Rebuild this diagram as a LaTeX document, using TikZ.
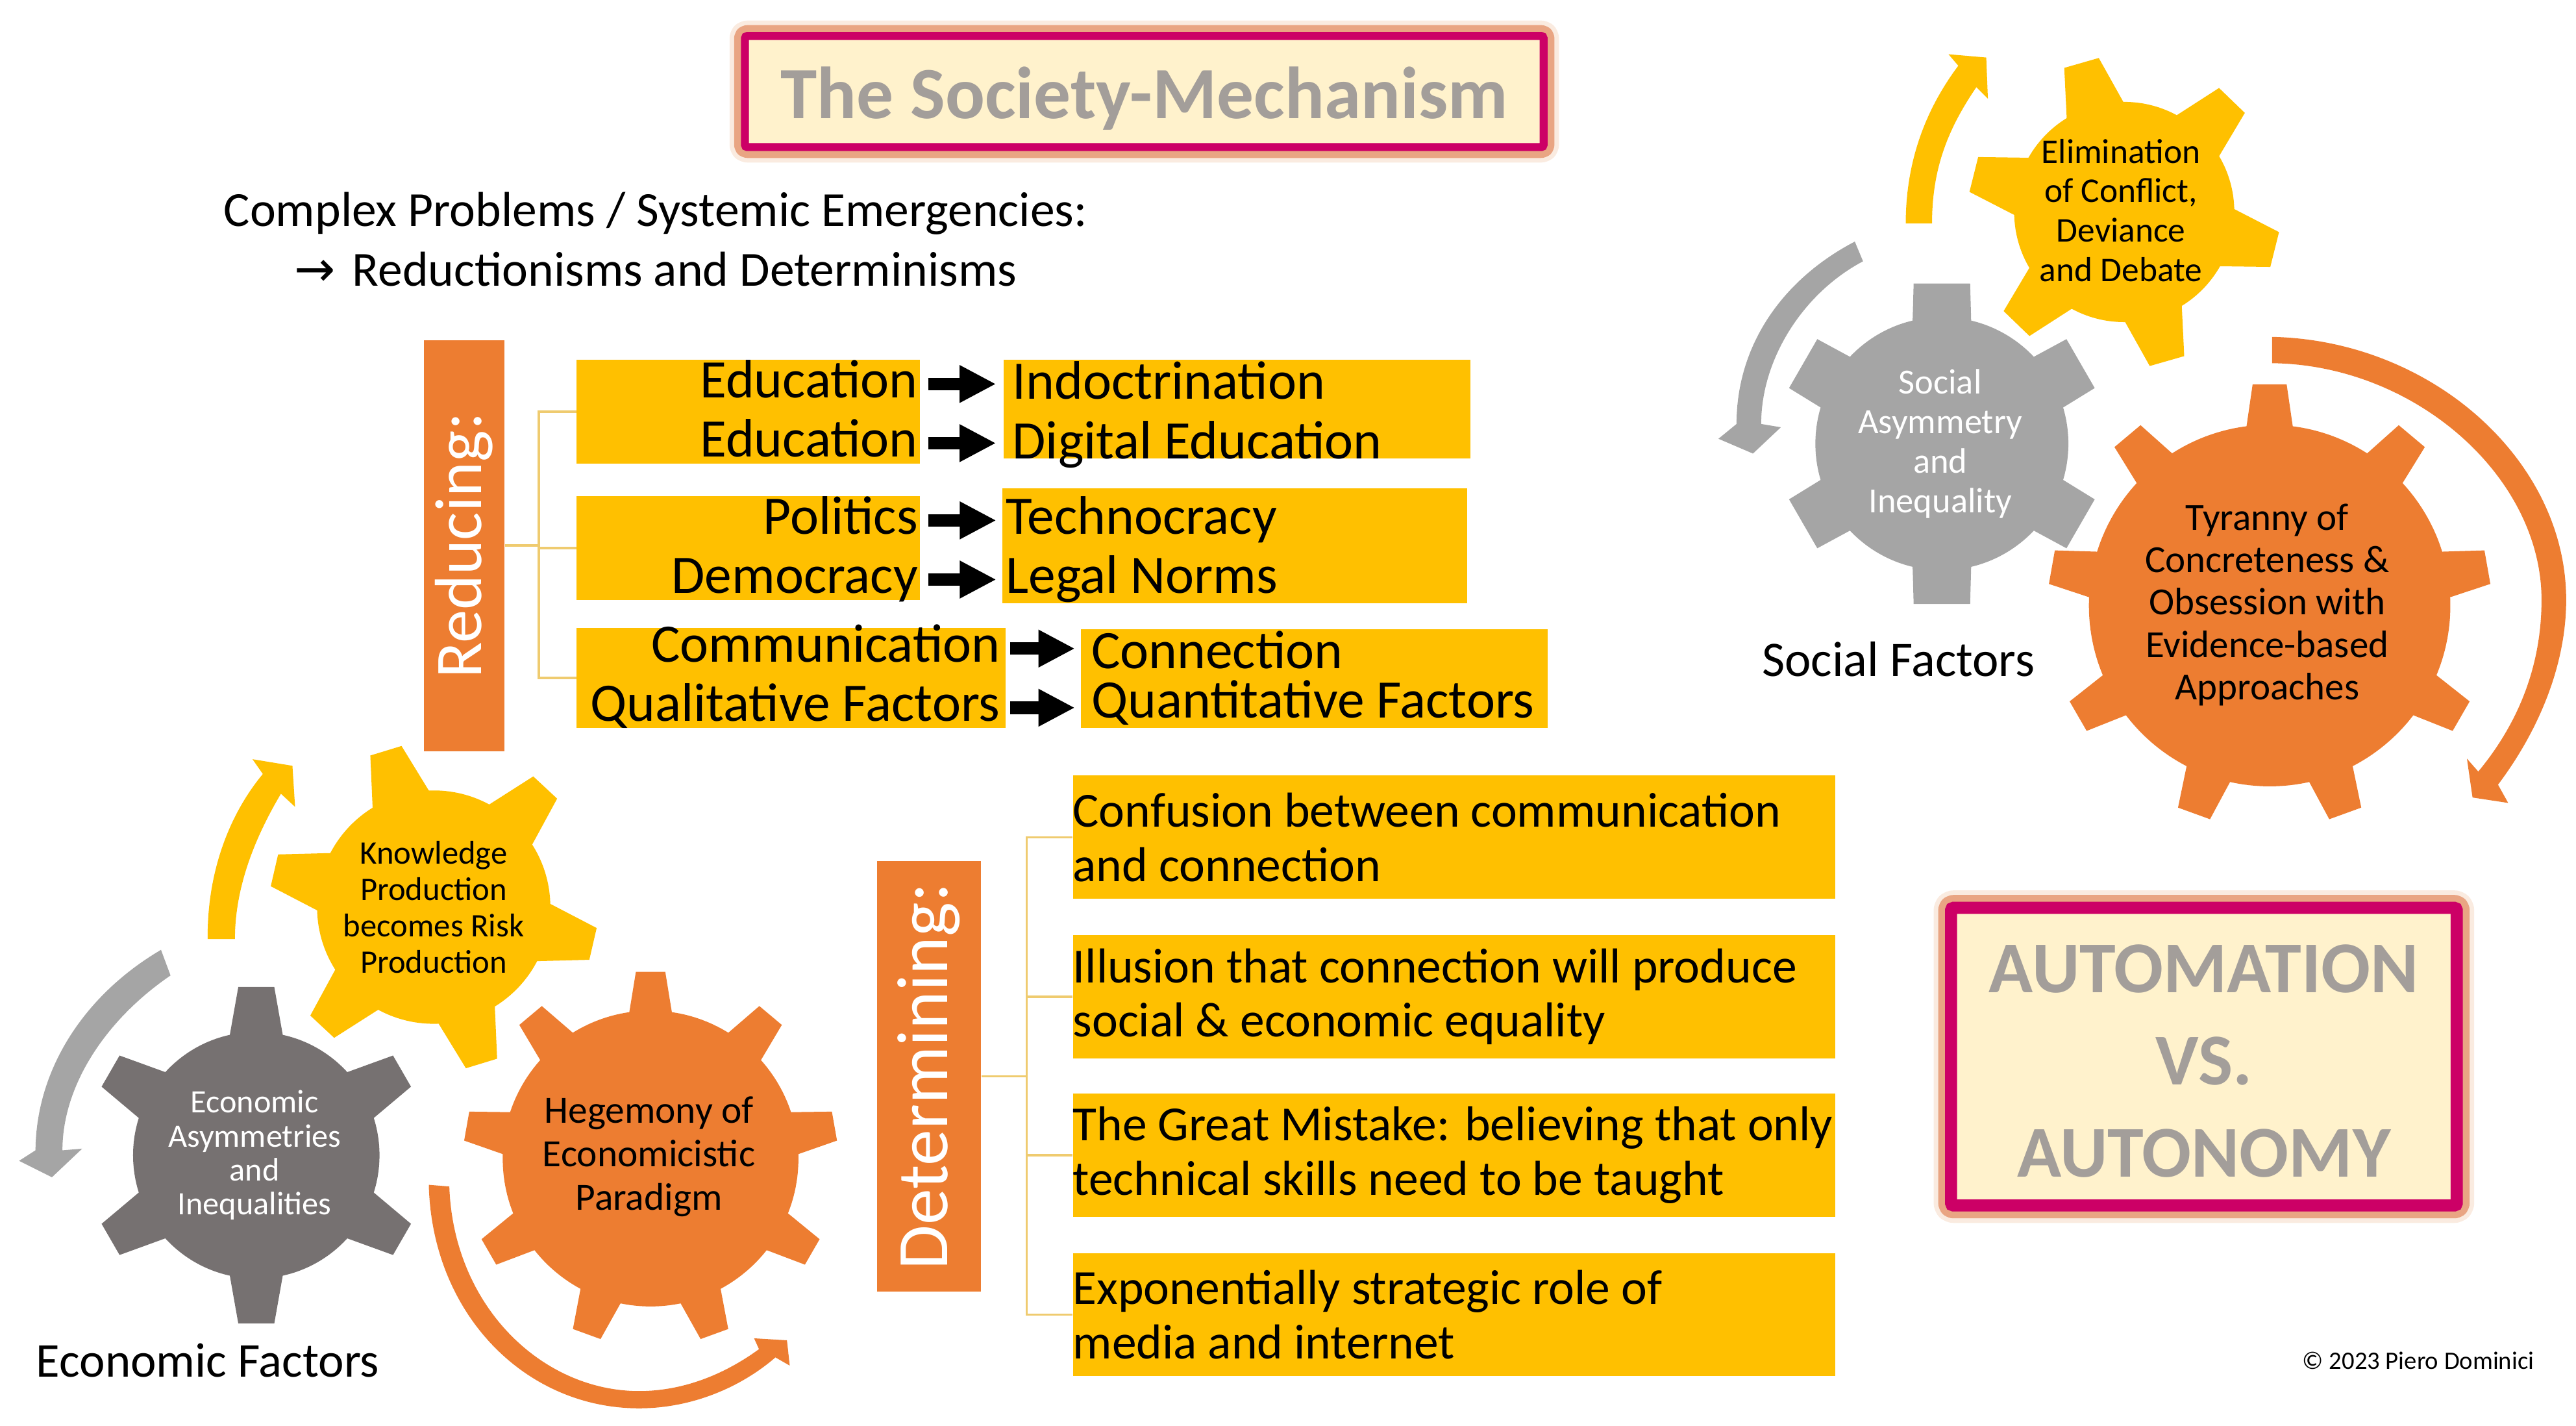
\documentclass[tikz,border=0pt]{standalone}
\usepackage{fontspec}
\setmainfont{Carlito}
\newfontfamily\arrowfont{DejaVu Sans}
\usetikzlibrary{arrows.meta}

\definecolor{cogyellow}{HTML}{FFC000}
\definecolor{cogorange}{HTML}{ED7D31}
\definecolor{coggrey}{HTML}{A5A5A5}
\definecolor{cogdark}{HTML}{767171}
\definecolor{framered}{HTML}{CC0066}
\definecolor{framefill}{HTML}{FFF2CC}
\definecolor{framefont}{HTML}{A39E9A}
\definecolor{glowmid}{HTML}{E9A583}
\definecolor{glowpale}{HTML}{FAEBE0}
\definecolor{treeline}{HTML}{EFCB6F}

\tikzset{
    framebox/.style={fill=framefill, draw=framered, align=center, inner sep=0pt, rounded corners=1pt, text=framefont,
        preaction={draw=glowpale, line width=#1+10pt, line join=round},
        preaction={draw=glowmid, line width=#1+6pt, line join=round},
        line width=#1},
    barbox/.style={fill=cogorange, text=white, inner sep=0pt, rotate=90},
    goldbox/.style={fill=cogyellow, inner sep=0pt},
    rowtext/.style={inner sep=0pt, text height=17pt, text depth=5pt, font=\fontsize{23.75}{26}\selectfont},
    detailbox/.style={goldbox, minimum width=334pt, minimum height=54pt, text width=334pt, align=flush left, font=\fontsize{21.5}{23.8}\selectfont},
    branch/.style={draw=treeline, line width=1pt},
    blockarrow/.style={line width=5.5pt, -{Triangle[length=16pt,width=15.4pt]}, shorten <=4.3pt, shorten >=7pt},
    cogtext/.style={align=center, inner sep=0pt}
}

\newcommand{\cogwheel}[9]{
    \begin{scope}[shift={(#1,#2)}]
        \fill[#9] (0,0) circle[radius=#3];
        \foreach \i in {1,...,#5}{
            \pgfmathsetmacro{\ang}{#6+(\i-1)*360/#5}
            \fill[#9] (\ang-#7:#3-3) -- (\ang-#8:#4) -- (\ang+#8:#4) -- (\ang+#7:#3-3) -- cycle;
        }
    \end{scope}
}

\begin{document}
\begin{tikzpicture}[x=0.72pt,y=-0.72pt]
    \useasboundingbox (0,0) rectangle (1568,867.4);

    \node[framebox=3.5pt, minimum width=350pt, minimum height=48.7pt, text height=30pt, text depth=6.2pt, font=\fontsize{32.3}{36}\selectfont\bfseries] (title) at (696.5,55.7) {The Society-Mechanism};
    \node[framebox=5.3pt, minimum width=221.6pt, minimum height=130.4pt, text height=105.4pt, font=\fontsize{32}{40.3}\selectfont\bfseries] (versus) at (1341.5,643) {AUTOMATION\\VS.\\AUTONOMY};

    \node[anchor=base west, inner sep=0pt, font=\fontsize{21.5}{24}\selectfont] (problems) at (136,137.7) {Complex Problems / Systemic Emergencies:};
    \node[anchor=base west, inner sep=0pt, font=\fontsize{21.5}{24}\selectfont] (reductions) at (179,174) {{\arrowfont →}\hspace{2.5pt} Reductionisms and Determinisms};

    \node[barbox, minimum width=180pt, minimum height=35.3pt, font=\fontsize{29.2}{32}\selectfont] (reducing) at (282.5,332) {Reducing:};
    \node[barbox, minimum width=188.6pt, minimum height=45.4pt, font=\fontsize{31.8}{34}\selectfont] (determining) at (565.5,655) {Determining:};

    \node[goldbox, minimum width=150.5pt, minimum height=45.4pt] (leftone) at (455.5,250.5) {};
    \node[goldbox, minimum width=204.5pt, minimum height=43.2pt] (rightone) at (753,249) {};
    \node[goldbox, minimum width=150.5pt, minimum height=45.4pt] (lefttwo) at (455.5,333.5) {};
    \node[goldbox, minimum width=203.8pt, minimum height=50.4pt] (righttwo) at (751.5,332) {};
    \node[goldbox, minimum width=187.9pt, minimum height=43.9pt] (leftthree) at (481.5,412.5) {};
    \node[goldbox, minimum width=204.5pt, minimum height=43.2pt] (rightthree) at (800,413) {};

    \node[rowtext, anchor=base east] (educa) at (559,242) {Education};
    \node[rowtext, anchor=base east] (educb) at (559,278) {Education};
    \node[rowtext, anchor=base east] (politics) at (559,325) {Politics};
    \node[rowtext, anchor=base east] (democracy) at (559,361) {Democracy};
    \node[rowtext, anchor=base east] (communication) at (609,403) {Communication};
    \node[rowtext, anchor=base east] (qualitative) at (609,439) {Qualitative Factors};

    \node[rowtext, anchor=base west] (indoctrination) at (616,243) {Indoctrination};
    \node[rowtext, anchor=base west] (digital) at (616,279) {Digital Education};
    \node[rowtext, anchor=base west] (technocracy) at (612,325) {Technocracy};
    \node[rowtext, anchor=base west] (legal) at (612,361) {Legal Norms};
    \node[rowtext, anchor=base west] (connection) at (664,407) {Connection};
    \node[rowtext, anchor=base west] (quantitative) at (664,437) {Quantitative Factors};

    \draw[blockarrow] (educa.east) -- (educa.east -| indoctrination.west);
    \draw[blockarrow] (educb.east) -- (educb.east -| digital.west);
    \draw[blockarrow, shorten >=4pt] (politics.east) -- (politics.east -| technocracy.west);
    \draw[blockarrow, shorten >=4pt] (democracy.east) -- (democracy.east -| legal.west);
    \draw[blockarrow] (communication.east) -- (communication.east -| connection.west);
    \draw[blockarrow] (qualitative.east) -- (qualitative.east -| quantitative.west);

    \coordinate (reducejoint) at (328,332);
    \draw[branch] (reducing.south) -- (reducejoint);
    \draw[branch] (reducejoint) |- (leftone.west);
    \draw[branch] (reducejoint) |- (lefttwo.west);
    \draw[branch] (reducejoint) |- (leftthree.west);

    \node[detailbox] (confusion) at (885,509.5) {Confusion between communication\\and connection};
    \node[detailbox] (illusion) at (885,606.5) {Illusion that connection will produce\\social \& economic equality};
    \node[detailbox] (mistake) at (885,703) {The Great Mistake: believing that only\\technical skills need to be taught};
    \node[detailbox] (media) at (885,800) {Exponentially strategic role of\\media and internet};

    \coordinate (determinejoint) at (625,655);
    \draw[branch] (determining.south) -- (determinejoint);
    \draw[branch] (determinejoint) |- (confusion.west);
    \draw[branch] (determinejoint) |- (illusion.west);
    \draw[branch] (determinejoint) |- (mistake.west);
    \draw[branch] (determinejoint) |- (media.west);

    \cogwheel{1293}{129}{67}{95}{6}{14}{17}{6.6}{cogyellow}
    \cogwheel{1182}{270}{77}{99}{6}{-90}{14}{10}{coggrey}
    \cogwheel{1381.5}{368.5}{110}{135}{9}{-90}{7.8}{4.4}{cogorange}
    \cogwheel{264}{552}{71}{100}{6}{13}{16}{5.7}{cogyellow}
    \cogwheel{156}{703}{75}{103}{6}{-90}{13.4}{6.1}{cogdark}
    \cogwheel{396}{705}{90}{114}{9}{-90}{8.9}{4.5}{cogorange}

    \fill[cogyellow] (1160,136) .. controls (1160,100) and (1171,68) .. (1192,40) -- (1186,33) -- (1209,35) -- (1210,60) -- (1203,53) .. controls (1186,78) and (1176,102) .. (1176,136) -- cycle;
    \fill[coggrey] (1129,147) .. controls (1085,170) and (1057,210) .. (1057,258) -- (1046,267) -- (1067,276) -- (1084,260) -- (1072,258) .. controls (1072,218) and (1098,178) .. (1134,159) -- cycle;
    \fill[cogorange] (1383,205) .. controls (1480,207) and (1562,280) .. (1562,365) .. controls (1562,405) and (1545,445) .. (1520.5,477.5) -- (1526.7,488.6) -- (1505,485.3) -- (1501.6,461.7) -- (1508.5,469.5) .. controls (1533,440) and (1547,405) .. (1547,365) .. controls (1547,290) and (1470,222) .. (1383,221) -- cycle;
    \fill[cogyellow] (126.4,571.4) .. controls (126,530) and (140,495) .. (160,471) -- (153.7,462) -- (178,466) -- (179.6,491) -- (171,483) .. controls (155,510) and (143,540) .. (143,571.4) -- cycle;
    \fill[coggrey] (98,578) .. controls (52,605) and (22,650) .. (21.6,700) -- (11.6,706.4) -- (31.6,716.4) -- (50,699) -- (38,700) .. controls (38,660) and (65,620) .. (103.8,593.6) -- cycle;
    \fill[cogorange] (261,721) .. controls (263,800) and (320,857) .. (389,857) .. controls (420,857) and (450,845) .. (472,826) -- (480.7,831) -- (479,815.6) -- (459,814.4) -- (462,821) .. controls (440,837) and (415,846.5) .. (389,846.5) .. controls (330,846.5) and (276,795) .. (273.5,722) -- cycle;

    \node[cogtext, font=\fontsize{15.2}{17.3}\selectfont] (elimination) at (1291,128) {Elimination\\of Conflict,\\Deviance\\and Debate};
    \node[cogtext, text=white, font=\fontsize{15.5}{17.3}\selectfont] (asymmetry) at (1181,270) {Social\\Asymmetry\\and\\Inequality};
    \node[cogtext, font=\fontsize{16.8}{18.6}\selectfont] (tyranny) at (1380,368) {Tyranny of\\Concreteness \&\\Obsession with\\Evidence-based\\Approaches};
    \node[cogtext, font=\fontsize{14.4}{15.9}\selectfont] (knowledge) at (264,552) {Knowledge\\Production\\becomes Risk\\Production};
    \node[cogtext, text=white, font=\fontsize{14.3}{14.9}\selectfont] (economic) at (155,703) {Economic\\Asymmetries\\and\\Inequalities};
    \node[cogtext, font=\fontsize{16.9}{19.1}\selectfont] (hegemony) at (395,704) {Hegemony of\\Economicistic\\Paradigm};

    \node[inner sep=0pt, font=\fontsize{21.8}{26}\selectfont] (socialfactors) at (1155.5,401) {Social Factors};
    \node[inner sep=0pt, font=\fontsize{21.3}{26}\selectfont] (economicfactors) at (126.5,828) {Economic Factors};
    \node[inner sep=0pt, font=\fontsize{11}{13}\selectfont] (copyright) at (1472,828) {© 2023 Piero Dominici};
\end{tikzpicture}
\end{document}
